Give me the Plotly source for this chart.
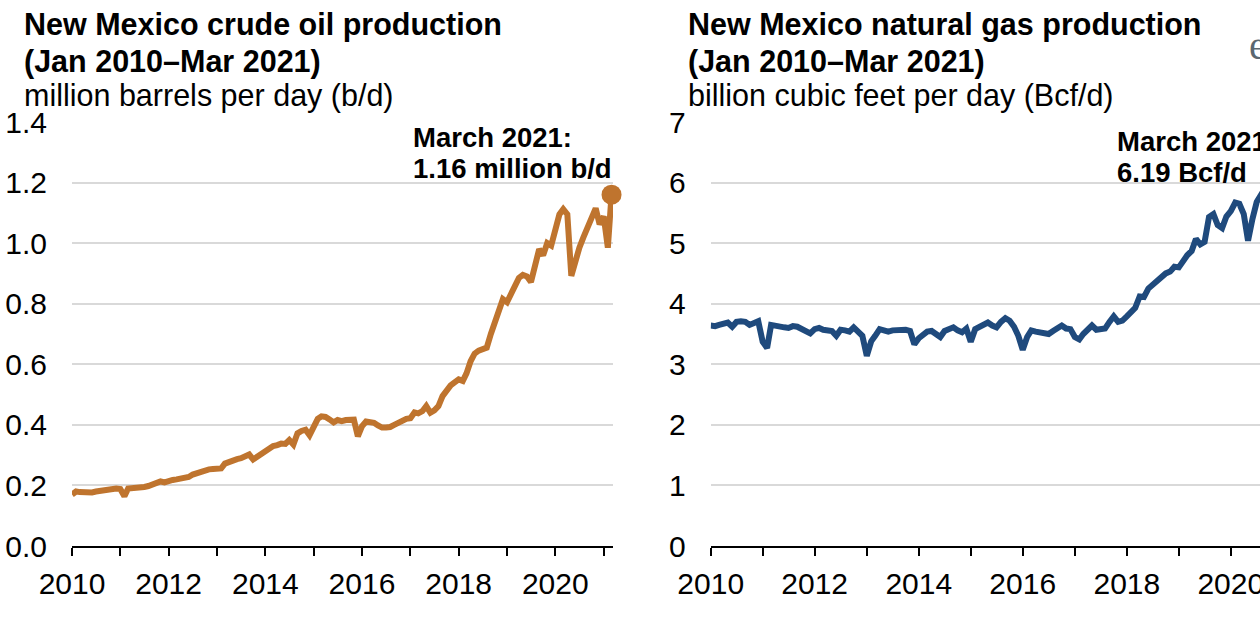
import plotly.graph_objects as go
import pandas as pd

# ---------------- data (monthly, Jan 2010 - Mar 2021) ----------------
months = pd.date_range("2010-01-01", "2021-03-01", freq="MS")

oil_2010 = [0.170, 0.180, 0.178, 0.177, 0.178, 0.177, 0.180, 0.182, 0.184, 0.190, 0.189, 0.190]
oil_2011 = [0.188, 0.164, 0.190, 0.191, 0.190, 0.192, 0.195, 0.198, 0.203, 0.205, 0.213, 0.210]
oil_2012 = [0.216, 0.218, 0.220, 0.222, 0.225, 0.228, 0.236, 0.240, 0.248, 0.252, 0.253, 0.254]
oil_2013 = [0.254, 0.256, 0.272, 0.278, 0.282, 0.287, 0.290, 0.297, 0.302, 0.286, 0.295, 0.305]
oil_2014 = [0.312, 0.322, 0.330, 0.333, 0.338, 0.337, 0.350, 0.335, 0.372, 0.380, 0.384, 0.366]
oil_2015 = [0.395, 0.420, 0.428, 0.426, 0.418, 0.408, 0.416, 0.412, 0.416, 0.415, 0.417, 0.362]
oil_2016 = [0.395, 0.411, 0.410, 0.407, 0.398, 0.391, 0.391, 0.393, 0.400, 0.408, 0.414, 0.420]
oil_2017 = [0.422, 0.441, 0.438, 0.445, 0.462, 0.440, 0.448, 0.462, 0.495, 0.515, 0.530, 0.540]
oil_2018 = [0.550, 0.545, 0.570, 0.610, 0.635, 0.645, 0.650, 0.655, 0.700, 0.740, 0.790, 0.815]
oil_2019 = [0.805, 0.835, 0.860, 0.885, 0.895, 0.890, 0.872, 0.920, 0.980, 0.960, 1.000, 0.992]
oil_2020 = [1.050, 1.095, 1.112, 1.095, 0.892, 0.950, 0.985, 1.020, 1.050, 1.085, 1.115, 1.062]
oil_2021 = [1.088, 0.985, 1.160]

gas_2010 = [3.64, 3.63, 3.65, 3.66, 3.69, 3.62, 3.70, 3.71, 3.70, 3.65, 3.68, 3.71]
gas_2011 = [3.37, 3.27, 3.65, 3.63, 3.62, 3.61, 3.60, 3.63, 3.62, 3.58, 3.55, 3.51]
gas_2012 = [3.58, 3.60, 3.57, 3.56, 3.55, 3.47, 3.57, 3.56, 3.54, 3.61, 3.55, 3.47]
gas_2013 = [3.14, 3.38, 3.47, 3.58, 3.56, 3.54, 3.56, 3.57, 3.58, 3.57, 3.55, 3.33]
gas_2014 = [3.43, 3.50, 3.54, 3.55, 3.50, 3.45, 3.55, 3.57, 3.61, 3.56, 3.53, 3.59]
gas_2015 = [3.37, 3.58, 3.62, 3.67, 3.69, 3.64, 3.61, 3.70, 3.76, 3.72, 3.62, 3.47]
gas_2016 = [3.24, 3.45, 3.56, 3.54, 3.53, 3.52, 3.50, 3.55, 3.61, 3.64, 3.59, 3.58]
gas_2017 = [3.45, 3.41, 3.50, 3.58, 3.64, 3.57, 3.58, 3.59, 3.70, 3.79, 3.70, 3.72]
gas_2018 = [3.79, 3.85, 3.93, 4.12, 4.11, 4.25, 4.32, 4.39, 4.44, 4.50, 4.53, 4.61]
gas_2019 = [4.60, 4.71, 4.80, 4.87, 5.07, 4.98, 5.02, 5.43, 5.48, 5.30, 5.25, 5.44]
gas_2020 = [5.53, 5.67, 5.65, 5.48, 5.04, 5.40, 5.68, 5.80, 5.75, 5.90, 6.00, 5.95]
gas_2021 = [6.05, 5.60, 6.19]

oil = (oil_2010 + oil_2011 + oil_2012 + oil_2013 + oil_2014 + oil_2015 + oil_2016
       + oil_2017 + oil_2018 + oil_2019 + oil_2020 + oil_2021)
gas = (gas_2010 + gas_2011 + gas_2012 + gas_2013 + gas_2014 + gas_2015 + gas_2016
       + gas_2017 + gas_2018 + gas_2019 + gas_2020 + gas_2021)

year_ticks = [f"{y}-01-01" for y in range(2010, 2022)]
year_text = [str(y) if y % 2 == 0 else "" for y in range(2010, 2022)]

oil_yticks = [0.0, 0.2, 0.4, 0.6, 0.8, 1.0, 1.2, 1.4]
gas_yticks = [0, 1, 2, 3, 4, 5, 6, 7]

OIL_COLOR = "#bf742e"
GAS_COLOR = "#1f4a7d"
FONT = "Liberation Sans, Arial, sans-serif"

# ---------------- figure ----------------
W, H = 1260, 628
ML, MR, MT, MB = 72, 0, 122, 82
PW, PH = W - ML - MR, H - MT - MB


def px(x):
    return (x - ML) / PW


def py(y):
    return (H - MB - y) / PH


fig = go.Figure()
fig.add_trace(go.Scatter(x=months, y=oil, mode="lines", line=dict(color=OIL_COLOR, width=6),
                         xaxis="x", yaxis="y", showlegend=False, hoverinfo="skip"))
fig.add_trace(go.Scatter(x=[months[-1]], y=[oil[-1]], mode="markers",
                         marker=dict(color=OIL_COLOR, size=20), cliponaxis=False,
                         xaxis="x", yaxis="y", showlegend=False, hoverinfo="skip"))
fig.add_trace(go.Scatter(x=months, y=gas, mode="lines", line=dict(color=GAS_COLOR, width=6),
                         xaxis="x2", yaxis="y2", showlegend=False, hoverinfo="skip"))
fig.add_trace(go.Scatter(x=[months[-1]], y=[gas[-1]], mode="markers",
                         marker=dict(color=GAS_COLOR, size=20), cliponaxis=False,
                         xaxis="x2", yaxis="y2", showlegend=False, hoverinfo="skip"))

xcommon = dict(type="date", tickmode="array", tickvals=year_ticks, ticktext=year_text,
               ticks="outside", ticklen=8, tickwidth=2, tickcolor="black",
               showline=True, linecolor="black", linewidth=2, showgrid=False,
               zeroline=False, tickfont=dict(family=FONT, size=30, color="black"),
               ticklabelstandoff=2, ticklabeloverflow="allow",
               automargin=False, fixedrange=True)
ycommon = dict(showgrid=True, gridcolor="#d9d9d9", gridwidth=2, zeroline=False,
               showline=False, ticks="", tickfont=dict(family=FONT, size=30, color="black"),
               ticklabelstandoff=24, automargin=False, fixedrange=True)

fig.update_layout(
    width=W, height=H,
    margin=dict(l=ML, r=MR, t=MT, b=MB, pad=0, autoexpand=False),
    paper_bgcolor="white", plot_bgcolor="white",
    xaxis=dict(domain=[0, px(613)], range=["2010-01-01", "2021-03-12"], anchor="y", **xcommon),
    yaxis=dict(domain=[0, 1], range=[0, 1.4], tickvals=oil_yticks, tickformat=".1f",
               anchor="x", **ycommon),
    xaxis2=dict(domain=[px(710.7), 1], range=["2010-01-01", "2020-07-24"], anchor="y2", **xcommon),
    yaxis2=dict(domain=[0, 1], range=[0, 7], tickvals=gas_yticks, anchor="x2", **ycommon),
)

annots = [
    ("<b>New Mexico crude oil production</b>", 22, 25, 30.5),
    ("<b>(Jan 2010–Mar 2021)</b>", 22, 61, 30.5),
    ("million barrels per day (b/d)", 22, 96, 30.5),
    ("<b>New Mexico natural gas production</b>", 686, 25, 30.5),
    ("<b>(Jan 2010–Mar 2021)</b>", 686, 61, 30.5),
    ("billion cubic feet per day (Bcf/d)", 686, 96, 30.5),
    ("<b>March 2021:</b>", 411, 137, 27.5),
    ("<b>1.16 million b/d</b>", 411, 168, 27.5),
    ("<b>March 2021:</b>", 1115, 141, 27.5),
    ("<b>6.19 Bcf/d</b>", 1115, 172, 27.5),
]
for text, x, y, size in annots:
    fig.add_annotation(text=text, x=px(x), y=py(y), xref="paper", yref="paper",
                       xanchor="left", yanchor="middle", showarrow=False,
                       font=dict(family=FONT, size=size, color="black"))

# partial logo glyph at the top-right corner
fig.add_annotation(text="e", x=px(1247), y=py(46), xref="paper", yref="paper",
                   xanchor="left", yanchor="middle", showarrow=False,
                   font=dict(family="Liberation Serif, serif", size=40, color="#5b6770"))

fig.write_html("out.html", config={"displayModeBar": False},
               post_script="document.body.style.margin='0';document.body.style.overflow='hidden';")
